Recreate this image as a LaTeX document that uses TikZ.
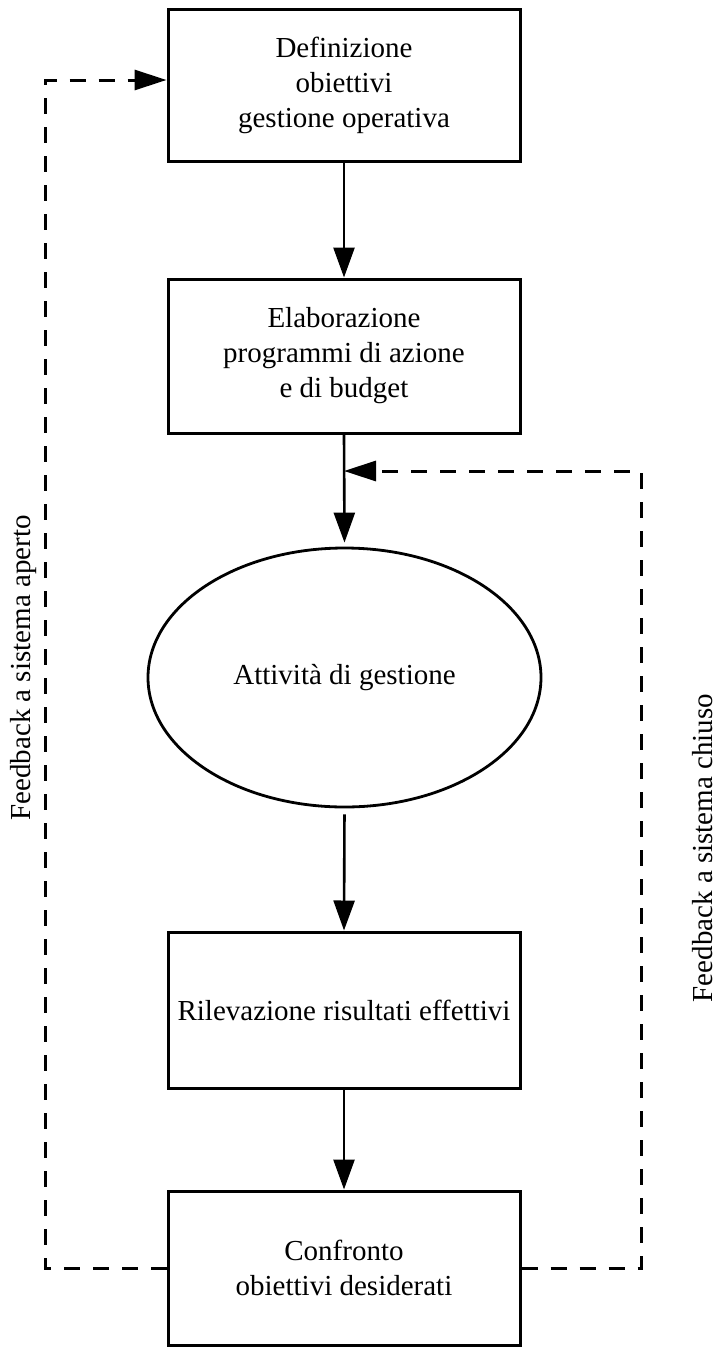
\documentclass[tikz,border=0pt]{standalone}
\usepackage{fontspec}
\setmainfont{Liberation Serif}
\usetikzlibrary{shapes.geometric,arrows.meta}

\tikzset{
  stepbox/.style={draw, line width=3pt, minimum width=352pt, inner sep=0pt,
                  align=center, font=\fontsize{29}{35}\selectfont},
  flow/.style={line width=2.6pt, -{Triangle[length=30pt,width=21pt]}},
  fb/.style={line width=3pt, dash pattern=on 16pt off 13pt,
             -{Triangle[length=32pt,width=20pt]}},
  sidelabel/.style={rotate=90, font=\fontsize{29}{35}\selectfont}
}

\begin{document}
\begin{tikzpicture}[x=1pt, y=-1pt]
  \useasboundingbox (0,0) rectangle (717,1347);

  % process steps
  \node[stepbox, minimum height=152pt] (def) at (344,85)
    {Definizione\\obiettivi\\gestione operativa};
  \node[stepbox, minimum height=154pt] (prog) at (344,356)
    {Elaborazione\\programmi di azione\\e di budget};
  \node[draw, ellipse, line width=2.8pt, minimum width=393pt, minimum height=259pt,
        inner sep=0pt, font=\fontsize{29}{35}\selectfont] (att) at (344.5,677.5)
    {Attività di gestione};
  \node[stepbox, minimum height=156pt] (ril) at (344,1010)
    {Rilevazione risultati effettivi};
  \node[stepbox, minimum height=154pt] (conf) at (344,1268)
    {Confronto\\obiettivi desiderati};

  % main flow
  \draw[flow] (def.south) -- (prog.north);
  \draw[flow, shorten >=4pt] (prog.south) -- (att.north);
  \draw[flow, shorten <=6pt] (att.south) -- (ril.north);
  \draw[flow] (ril.south) -- (conf.north);

  % feedback loops
  \coordinate (lx) at (45,0);
  \coordinate (rx) at (641,0);
  \coordinate (join) at (344,471);
  \coordinate (deftarget) at ([yshift=5pt]def.west);

  \draw[fb] (conf.west) -- (conf.west -| lx) -- (lx |- deftarget) -- (deftarget);
  \draw[fb] (conf.east) -- (conf.east -| rx) -- (rx |- join) -- (join);

  % loop labels
  \node[sidelabel] (open) at (24,668) {Feedback a sistema aperto};
  \node[sidelabel] (closed) at (703,848) {Feedback a sistema chiuso};
\end{tikzpicture}
\end{document}
